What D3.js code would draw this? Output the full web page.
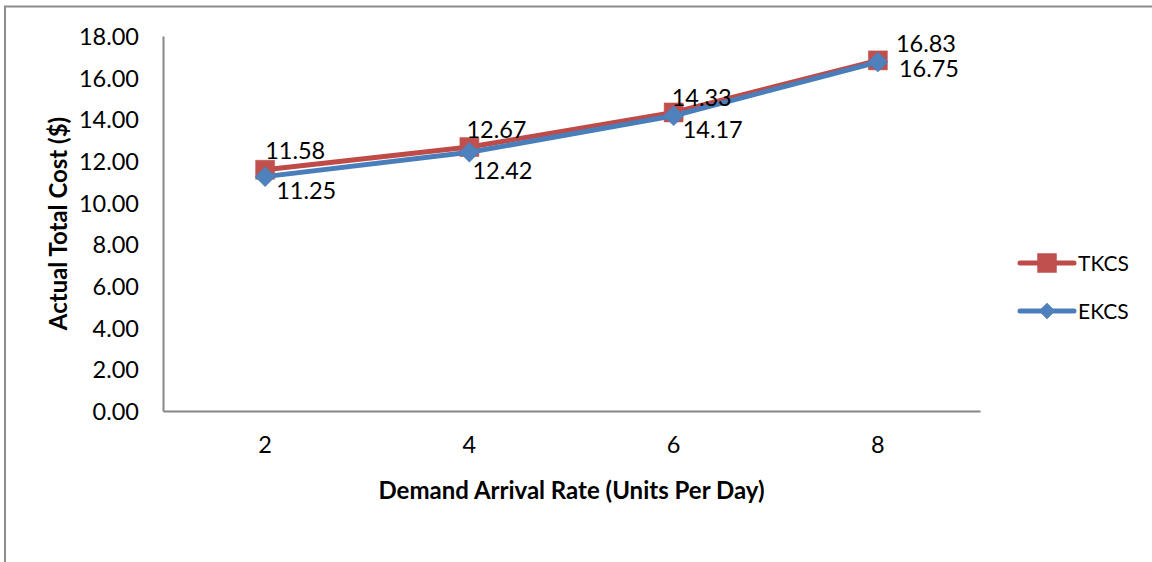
<!DOCTYPE html>
<html><head><meta charset="utf-8">
<script src="https://cdn.jsdelivr.net/npm/d3@7/dist/d3.min.js"></script>
<style>body{margin:0;background:#fff}svg{display:block}text{font-family:Lato,"Open Sans",sans-serif;fill:#000}</style>
</head><body>
<svg id="chart" width="1152" height="562"></svg>
<script>
const categories = ["2", "4", "6", "8"];
const tkcsValues = [11.58, 12.67, 14.33, 16.83];
const ekcsValues = [11.25, 12.42, 14.17, 16.75];
const yTickValues = [0, 2, 4, 6, 8, 10, 12, 14, 16, 18];
const seriesNames = ["TKCS", "EKCS"];
const xTitle = "Demand Arrival Rate (Units Per Day)";
const yTitle = "Actual Total Cost ($)";
// label offsets (styling): [dx from point to label left, dy from point to label center]
const tkcsLabelOffsets = [[0, -19], [-3, -18], [-2, -15], [18, -17]];
const ekcsLabelOffsets = [[11, 14], [3, 18], [9, 14], [21, 6.5]];

const svg = d3.select("#chart");
const W = 1152, H = 562;
const plot = {left: 163, right: 980, top: 36, bottom: 411};
const fs = 23.5;
const titleFs = 24;

// outer border (only left & top visible)
svg.append("path")
  .attr("d", `M5,${H} L5,6.5 L${W},6.5`)
  .attr("fill", "none").attr("stroke", "#8c8c8c").attr("stroke-width", 2);

const x = d3.scaleBand().domain(categories).range([plot.left, plot.right]);
const cx = c => x(c) + x.bandwidth() / 2;
const y = d3.scaleLinear().domain([0, 18]).range([plot.bottom, plot.top]);

// y axis
const yAxis = d3.axisLeft(y).tickValues(yTickValues).tickFormat(d3.format(".2f")).tickSize(0).tickPadding(24);
const gy = svg.append("g").attr("transform", `translate(${plot.left},0)`).call(yAxis);
gy.select(".domain").attr("stroke", "#868686").attr("stroke-width", 2);
gy.selectAll("text").attr("font-size", fs).attr("font-family", "Lato").attr("fill", "#000").attr("dy", "0.36em");

// x axis
const xAxis = d3.axisBottom(x).tickSize(0).tickPadding(25);
const gx = svg.append("g").attr("transform", `translate(0,${plot.bottom})`).call(xAxis);
gx.select(".domain").attr("stroke", "#868686").attr("stroke-width", 2);
gx.selectAll("text").attr("font-size", fs).attr("font-family", "Lato").attr("fill", "#000");

// axis titles
svg.append("text").attr("x", (plot.left + plot.right) / 2).attr("y", 499)
  .attr("text-anchor", "middle").attr("font-weight", "bold").attr("font-size", titleFs).text(xTitle);
svg.append("text").attr("transform", `translate(67,${(plot.top + plot.bottom) / 2}) rotate(-90)`)
  .attr("text-anchor", "middle").attr("font-weight", "bold").attr("font-size", titleFs).text(yTitle);

const series = [
  {name: seriesNames[0], values: tkcsValues, offsets: tkcsLabelOffsets, line: "#BE4B48", fill: "#C0504D", marker: "square"},
  {name: seriesNames[1], values: ekcsValues, offsets: ekcsLabelOffsets, line: "#4A7EBB", fill: "#4F81BD", marker: "diamond"}
];

const lineGen = d3.line().x((d, i) => cx(categories[i])).y(d => y(d));
const squareSym = d3.symbol().type(d3.symbolSquare).size(19 * 19);
const diamondPath = s => `M0,${-s} L${s},0 L0,${s} L${-s},0 Z`;

function marker(g, s, px, py, legend) {
  if (s.marker === "square") {
    g.append("path").attr("d", squareSym()).attr("transform", `translate(${px},${py})`)
      .attr("fill", s.fill).attr("stroke", "#B9514E").attr("stroke-width", 0.5);
  } else {
    g.append("path").attr("d", diamondPath(legend ? 8 : 10)).attr("transform", `translate(${px},${py})`)
      .attr("fill", s.fill).attr("stroke", "#4A7EBB").attr("stroke-width", 0.5);
  }
}

series.forEach(s => {
  const g = svg.append("g");
  g.append("path").datum(s.values).attr("d", lineGen)
    .attr("fill", "none").attr("stroke", s.line).attr("stroke-width", 5).attr("stroke-linejoin", "round").attr("stroke-linecap", "round");
  s.values.forEach((v, i) => marker(g, s, cx(categories[i]), y(v), false));
});

// data labels
series.forEach(s => {
  svg.append("g").selectAll("text").data(s.values).join("text")
    .attr("x", (d, i) => cx(categories[i]) + s.offsets[i][0])
    .attr("y", (d, i) => y(d) + s.offsets[i][1] + 0.36 * fs)
    .attr("font-size", fs).text(d => d.toFixed(2));
});

// legend
const legendY = [263, 311];
const legendFs = 21;
series.forEach((s, i) => {
  const g = svg.append("g");
  g.append("line").attr("x1", 1020).attr("x2", 1074).attr("y1", legendY[i]).attr("y2", legendY[i])
    .attr("stroke", s.line).attr("stroke-width", 5).attr("stroke-linecap", "round");
  marker(g, s, 1047, legendY[i], true);
  g.append("text").attr("x", 1078).attr("y", legendY[i] + 0.36 * legendFs).attr("font-size", legendFs).text(s.name);
});
</script>
</body></html>
